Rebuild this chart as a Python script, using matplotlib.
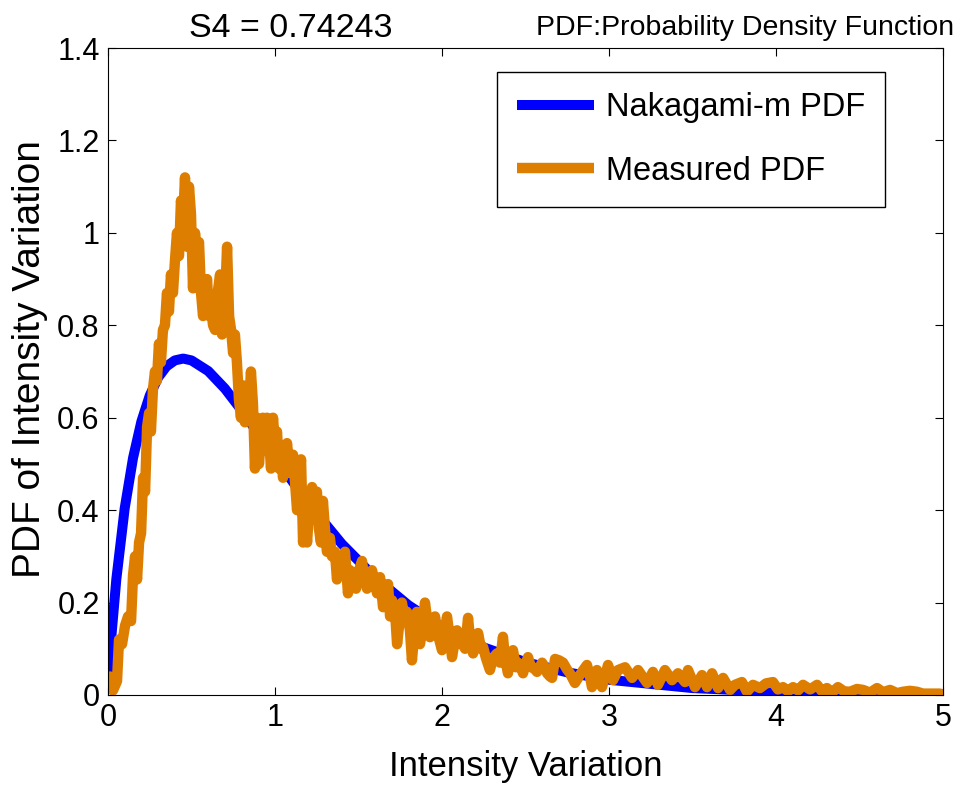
import numpy as np
import matplotlib
matplotlib.use("Agg")
import matplotlib.pyplot as plt

# Nakagami-m fit
fit_x = [0.0, 0.01, 0.02, 0.05, 0.1, 0.15, 0.2, 0.25, 0.3, 0.35, 0.4, 0.45, 0.5,
         0.6, 0.7, 0.8, 0.9, 1.0, 1.2, 1.4, 1.6, 1.8, 2.0, 2.25, 2.5, 2.75, 3.0,
         3.5, 4.0, 4.5, 5.0]
fit_pdf = [0.05, 0.073, 0.126, 0.251, 0.404, 0.513, 0.592, 0.648, 0.687, 0.711, 0.724,
           0.728, 0.724, 0.701, 0.663, 0.616, 0.566, 0.514, 0.415, 0.327, 0.254, 0.194,
           0.147, 0.103, 0.071, 0.049, 0.033, 0.015, 0.007, 0.003, 0.0013]

# measured PDF (noisy orange curve)
meas_x = [0.012, 0.030, 0.054, 0.066, 0.084, 0.102, 0.120, 0.138, 0.150, 0.162,
          0.174, 0.186, 0.198, 0.210, 0.222, 0.234, 0.246, 0.257, 0.269, 0.281,
          0.293, 0.305, 0.317, 0.329, 0.341, 0.353, 0.365, 0.377, 0.389, 0.401,
          0.413, 0.425, 0.437, 0.449, 0.461, 0.473, 0.485, 0.497, 0.509, 0.521,
          0.533, 0.545, 0.557, 0.569, 0.581, 0.593, 0.605, 0.617, 0.629, 0.641,
          0.653, 0.671, 0.683, 0.695, 0.713, 0.725, 0.737, 0.749, 0.760, 0.772,
          0.784, 0.796, 0.808, 0.820, 0.832, 0.844, 0.856, 0.868, 0.880, 0.892,
          0.904, 0.916, 0.928, 0.940, 0.952, 0.964, 0.976, 0.988, 1.000, 1.012,
          1.024, 1.036, 1.048, 1.060, 1.072, 1.084, 1.096, 1.108, 1.120, 1.132,
          1.144, 1.156, 1.168, 1.180, 1.192, 1.204, 1.222, 1.234, 1.251, 1.263,
          1.275, 1.287, 1.299, 1.311, 1.329, 1.341, 1.359, 1.371, 1.389, 1.407,
          1.419, 1.437, 1.449, 1.467, 1.485, 1.503, 1.521, 1.533, 1.551, 1.563,
          1.581, 1.599, 1.611, 1.629, 1.647, 1.665, 1.677, 1.689, 1.701, 1.719,
          1.731, 1.749, 1.760, 1.778, 1.790, 1.808, 1.820, 1.838, 1.850, 1.868,
          1.886, 1.898, 1.916, 1.928, 1.946, 1.958, 1.976, 2.000, 2.012, 2.030,
          2.048, 2.060, 2.078, 2.090, 2.108, 2.120, 2.138, 2.156, 2.168, 2.186,
          2.204, 2.216, 2.234, 2.246, 2.263, 2.287, 2.305, 2.329, 2.347, 2.365,
          2.377, 2.395, 2.413, 2.425, 2.443, 2.455, 2.473, 2.485, 2.503, 2.515,
          2.533, 2.545, 2.569, 2.599, 2.617, 2.629, 2.647, 2.659, 2.677, 2.701,
          2.725, 2.749, 2.766, 2.796, 2.820, 2.838, 2.868, 2.886, 2.898, 2.928,
          2.958, 2.976, 2.994, 3.024, 3.054, 3.096, 3.138, 3.174, 3.228, 3.263,
          3.293, 3.335, 3.377, 3.413, 3.455, 3.473, 3.515, 3.557, 3.587, 3.617,
          3.653, 3.683, 3.725, 3.754, 3.796, 3.826, 3.862, 3.904, 3.940, 3.982,
          4.012, 4.042, 4.072, 4.102, 4.132, 4.162, 4.204, 4.246, 4.275, 4.305,
          4.335, 4.371, 4.407, 4.443, 4.485, 4.521, 4.563, 4.605, 4.641, 4.683,
          4.725, 4.760, 4.802, 4.844, 4.880, 4.922, 4.982]
meas_pdf = [0.04, 0.01, 0.03, 0.12, 0.11, 0.15, 0.17, 0.16, 0.26, 0.30,
            0.25, 0.33, 0.35, 0.47, 0.44, 0.58, 0.61, 0.57, 0.66, 0.70,
            0.68, 0.76, 0.72, 0.79, 0.80, 0.87, 0.83, 0.91, 0.87, 0.94,
            1.00, 0.95, 1.07, 1.02, 1.12, 0.97, 1.10, 1.04, 0.88, 1.00,
            0.95, 0.98, 0.87, 0.82, 0.86, 0.90, 0.82, 0.84, 0.80, 0.79,
            0.86, 0.91, 0.78, 0.80, 0.97, 0.82, 0.79, 0.74, 0.78, 0.72,
            0.64, 0.60, 0.67, 0.59, 0.66, 0.62, 0.70, 0.63, 0.49, 0.60,
            0.50, 0.56, 0.60, 0.53, 0.60, 0.56, 0.49, 0.60, 0.54, 0.57,
            0.49, 0.53, 0.47, 0.51, 0.545, 0.50, 0.48, 0.52, 0.46, 0.40,
            0.46, 0.51, 0.33, 0.40, 0.33, 0.40, 0.45, 0.38, 0.44, 0.36,
            0.33, 0.42, 0.36, 0.31, 0.34, 0.30, 0.31, 0.25, 0.29, 0.27,
            0.31, 0.22, 0.27, 0.26, 0.23, 0.27, 0.29, 0.255, 0.23, 0.26,
            0.27, 0.24, 0.22, 0.255, 0.19, 0.23, 0.24, 0.17, 0.205, 0.18,
            0.11, 0.17, 0.20, 0.16, 0.18, 0.14, 0.075, 0.15, 0.18, 0.11,
            0.15, 0.20, 0.15, 0.125, 0.14, 0.17, 0.13, 0.097, 0.13, 0.17,
            0.12, 0.082, 0.12, 0.14, 0.11, 0.12, 0.10, 0.167, 0.12, 0.09,
            0.11, 0.134, 0.10, 0.104, 0.08, 0.054, 0.08, 0.09, 0.07, 0.126,
            0.08, 0.047, 0.09, 0.097, 0.06, 0.07, 0.06, 0.047, 0.07, 0.082,
            0.06, 0.06, 0.05, 0.07, 0.06, 0.047, 0.04, 0.037, 0.078, 0.075,
            0.07, 0.055, 0.047, 0.026, 0.04, 0.05, 0.065, 0.04, 0.017, 0.054,
            0.017, 0.04, 0.065, 0.032, 0.054, 0.06, 0.037, 0.054, 0.026, 0.05,
            0.022, 0.054, 0.032, 0.047, 0.028, 0.054, 0.017, 0.043, 0.017, 0.047,
            0.015, 0.037, 0.011, 0.022, 0.028, 0.007, 0.022, 0.015, 0.025, 0.028,
            0.012, 0.017, 0.008, 0.017, 0.010, 0.022, 0.012, 0.022, 0.008, 0.015,
            0.005, 0.017, 0.008, 0.007, 0.013, 0.011, 0.005, 0.015, 0.006, 0.011,
            0.004, 0.007, 0.009, 0.007, 0.003, 0.003, 0.003]

xticks = [0, 1, 2, 3, 4, 5]
yticks = [0, 0.2, 0.4, 0.6, 0.8, 1.0, 1.2, 1.4]
ytick_labels = ['0', '0.2', '0.4', '0.6', '0.8', '1', '1.2', '1.4']

plt.rcParams['font.family'] = ['Liberation Sans', 'DejaVu Sans']

fig = plt.figure(figsize=(9.59, 7.87), dpi=100)
ax = fig.add_axes([108/959, 92/787, 835/959, 647/787])

ax.plot(fit_x, fit_pdf, color='#0000FF', lw=7.2, solid_joinstyle='round',
        solid_capstyle='round', label='Nakagami-m PDF')
ax.plot(meas_x, meas_pdf, color='#DE7E00', lw=7.5, solid_joinstyle='round',
        solid_capstyle='round', label='Measured PDF')

ax.set_xlim(0, 5)
ax.set_ylim(0, 1.4)
ax.set_xticks(xticks)
ax.set_yticks(yticks)
ax.set_yticklabels(ytick_labels)
ax.tick_params(direction='in', length=6, width=0.8, top=True, right=True,
               labelsize=22, pad=6)
for s in ax.spines.values():
    s.set_linewidth(0.8)

ax.set_xlabel('Intensity Variation', fontsize=25, labelpad=12)
ax.set_ylabel('PDF of Intensity Variation', fontsize=28)
ax.yaxis.set_label_coords(-0.072, 0.519)

leg = ax.legend(loc='upper right', bbox_to_anchor=((885 - 108)/835, (695 - 72)/647),
                borderaxespad=0, fontsize=23.5, fancybox=False, framealpha=1,
                edgecolor='black', handlelength=2.36, handletextpad=0.34,
                labelspacing=1.0, borderpad=0.62)
leg.get_frame().set_linewidth(1.0)
for h in leg.get_lines():
    h.set_solid_capstyle('butt')

fig.text(291/959, 1 - 37/787, 'S4 = 0.74243', fontsize=24.5, ha='center', va='baseline')
fig.text(954/959, 1 - 35/787, 'PDF:Probability Density Function', fontsize=20.5,
         ha='right', va='baseline')

fig.savefig('out.png', dpi=100, facecolor='white')
